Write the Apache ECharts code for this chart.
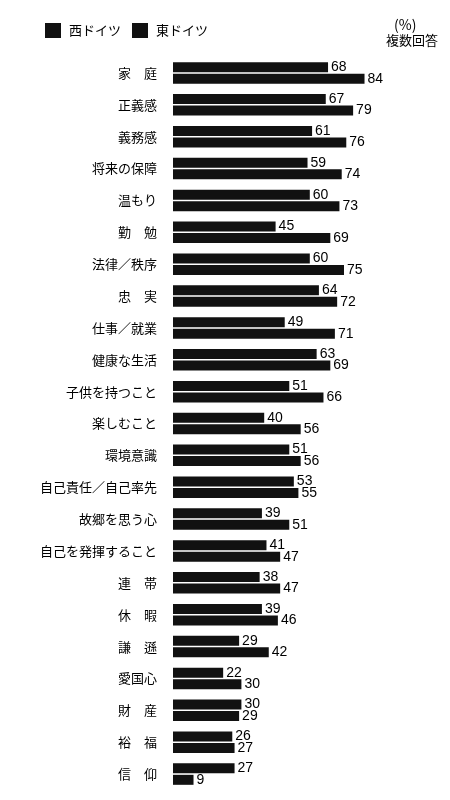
<!DOCTYPE html>
<html>
<head>
<meta charset="utf-8">
<script src="https://cdn.jsdelivr.net/npm/echarts@6/dist/echarts.min.js"></script>
<style>
  html, body { margin: 0; padding: 0; background: #fff; }
  #chart { width: 450px; height: 800px; }
</style>
</head>
<body>
<div id="chart"></div>
<script>
// 項目
const categories = [
  '家　庭', '正義感', '義務感', '将来の保障', '温もり', '勤　勉', '法律／秩序', '忠　実',
  '仕事／就業', '健康な生活', '子供を持つこと', '楽しむこと', '環境意識', '自己責任／自己率先',
  '故郷を思う心', '自己を発揮すること', '連　帯', '休　暇', '謙　遜', '愛国心', '財　産', '裕　福', '信　仰'
]
// 西ドイツ (%)
const westValues = [68, 67, 61, 59, 60, 45, 60, 64, 49, 63, 51, 40, 51, 53, 39, 41, 38, 39, 29, 22, 30, 26, 27]
// 東ドイツ (%)
const eastValues = [84, 79, 76, 74, 73, 69, 75, 72, 71, 69, 66, 56, 56, 55, 51, 47, 47, 46, 42, 30, 29, 27, 9]

const cjk = '"Noto Sans CJK JP", "Noto Sans", sans-serif'
const num = '"Liberation Sans", Arial, sans-serif'

const chart = echarts.init(document.getElementById('chart'))

const barLabel = {
  show: true,
  position: 'right',
  distance: 3,
  color: '#000',
  fontFamily: num,
  fontSize: 14
}

chart.setOption({
  animation: false,
  backgroundColor: '#fff',
  legend: {
    left: 45,
    top: 23,
    padding: 0,
    itemWidth: 16,
    itemHeight: 15,
    itemGap: 11,
    icon: 'rect',
    textStyle: { fontFamily: cjk, fontSize: 13, color: '#000', padding: [0, 0, 0, 3] },
    data: ['西ドイツ', '東ドイツ']
  },
  graphic: [
    {
      type: 'text', left: 394, top: 18,
      style: { text: '(%)', font: '14px "Noto Sans CJK JP"', fill: '#000' }
    },
    {
      type: 'text', left: 386, top: 34,
      style: { text: '複数回答', font: '13px "Noto Sans CJK JP"', fill: '#000' }
    }
  ],
  grid: {
    left: 173,
    right: 49,
    top: 57,
    bottom: 10,
    containLabel: false
  },
  xAxis: {
    type: 'value',
    min: 0,
    max: 100,
    show: false
  },
  yAxis: {
    type: 'category',
    inverse: true,
    data: categories,
    axisLine: { show: false },
    axisTick: { show: false },
    splitLine: { show: false },
    axisLabel: {
      margin: 16,
      color: '#000',
      fontFamily: cjk,
      fontSize: 13
    }
  },
  series: [
    {
      name: '西ドイツ',
      type: 'bar',
      data: westValues,
      barWidth: 10,
      barGap: '15%',
      itemStyle: { color: '#111' },
      label: barLabel
    },
    {
      name: '東ドイツ',
      type: 'bar',
      data: eastValues,
      barWidth: 10,
      itemStyle: { color: '#111' },
      label: barLabel
    }
  ]
})
</script>
</body>
</html>
